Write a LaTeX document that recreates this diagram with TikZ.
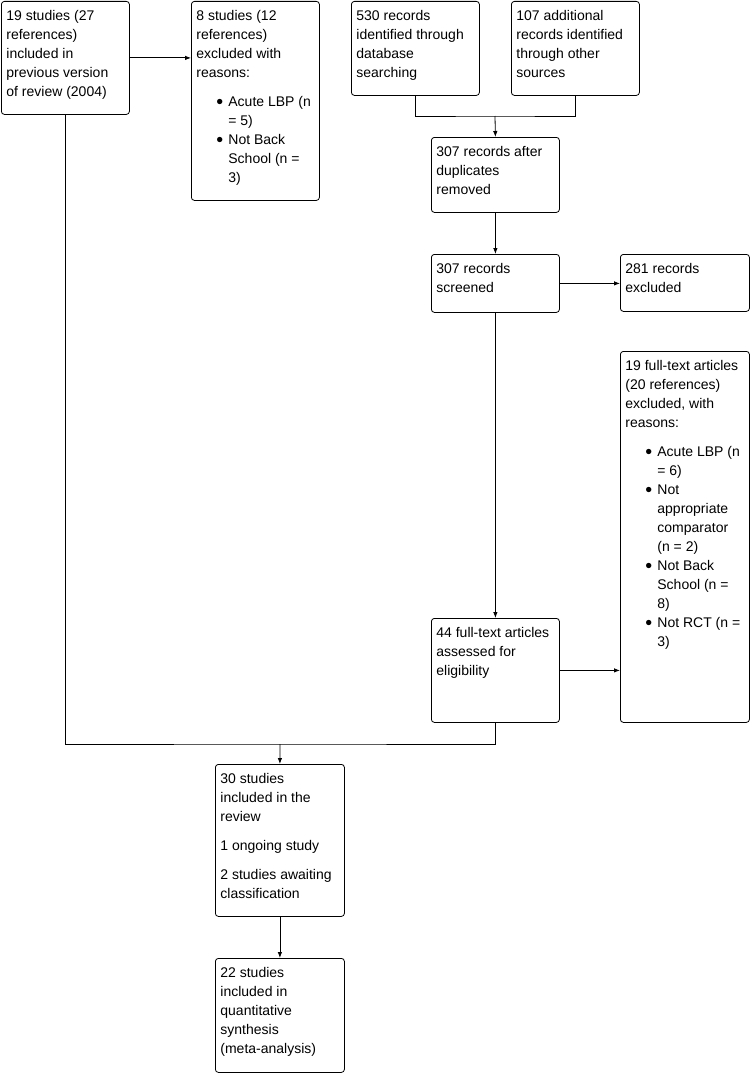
\documentclass[tikz,border=0pt]{standalone}
\usepackage{fontspec}
\setmainfont{Liberation Sans}
\usepackage{tikz}
\usetikzlibrary{arrows.meta,positioning}
\newcommand{\bitem}{\hspace*{20pt}\makebox[12pt][l]{\raisebox{-2.2pt}{\scalebox{1.4}{\textbullet}}}}
\newcommand{\bcont}{\hspace*{32pt}}

\begin{document}
\begin{tikzpicture}[
    x=1pt, y=-1pt,
    line width=0.8pt,
    box/.style={draw, rounded corners=3pt, anchor=north west, inner sep=0pt},
    txt/.style={anchor=north west, inner sep=0pt, align=left, font=\fontsize{14}{19}\selectfont},
    arr/.style={-{Latex[length=6pt,width=4.5pt]}}
  ]
  \useasboundingbox (0,0) rectangle (752,1073);

  % boxes
  \node[box, minimum width=128pt, minimum height=113pt] (prev)   at (1,1)     {};
  \node[box, minimum width=128pt, minimum height=199pt] (exprev) at (191,1)   {};
  \node[box, minimum width=128pt, minimum height=94pt]  (dbase)  at (351,1)   {};
  \node[box, minimum width=128pt, minimum height=94pt]  (other)  at (511,1)   {};
  \node[box, minimum width=128pt, minimum height=75pt]  (dupl)   at (431,137) {};
  \node[box, minimum width=128pt, minimum height=58pt]  (screen) at (431,254) {};
  \node[box, minimum width=129pt, minimum height=57pt]  (exrec)  at (620,254) {};
  \node[box, minimum width=129pt, minimum height=371pt] (exfull) at (620,351) {};
  \node[box, minimum width=128pt, minimum height=104pt] (full)   at (431,618) {};
  \node[box, minimum width=129pt, minimum height=152pt] (incl)   at (215,764) {};
  \node[box, minimum width=129pt, minimum height=114pt] (meta)   at (215,958) {};

  % texts
  \node[txt] (prevtxt) at ([xshift=5pt,yshift=-9pt]prev.north west)
    {19 studies (27\\references)\\included in\\previous version\\of review (2004)};
  \node[txt] (exprevtxt) at ([xshift=5pt,yshift=-9pt]exprev.north west)
    {8 studies (12\\references)\\excluded with\\reasons:\\[10pt]
     \bitem Acute LBP (n\\\bcont = 5)\\\bitem Not Back\\\bcont School (n =\\\bcont 3)};
  \node[txt] (dbasetxt) at ([xshift=5pt,yshift=-9pt]dbase.north west)
    {530 records\\identified through\\database\\searching};
  \node[txt] (othertxt) at ([xshift=5pt,yshift=-9pt]other.north west)
    {107 additional\\records identified\\through other\\sources};
  \node[txt] (dupltxt) at ([xshift=5pt,yshift=-9pt]dupl.north west)
    {307 records after\\duplicates\\removed};
  \node[txt] (screentxt) at ([xshift=5pt,yshift=-9pt]screen.north west)
    {307 records\\screened};
  \node[txt] (exrectxt) at ([xshift=5pt,yshift=-9pt]exrec.north west)
    {281 records\\excluded};
  \node[txt] (exfulltxt) at ([xshift=5pt,yshift=-9pt]exfull.north west)
    {19 full-text articles\\(20 references)\\excluded, with\\reasons:\\[10pt]
     \bitem Acute LBP (n\\\bcont = 6)\\\bitem Not\\\bcont appropriate\\\bcont comparator\\\bcont (n = 2)\\
     \bitem Not Back\\\bcont School (n =\\\bcont 8)\\\bitem Not RCT (n =\\\bcont 3)};
  \node[txt] (fulltxt) at ([xshift=5pt,yshift=-9pt]full.north west)
    {44 full-text articles\\assessed for\\eligibility};
  \node[txt] (incltxt) at ([xshift=5pt,yshift=-9pt]incl.north west)
    {30 studies\\included in the\\review\\[10pt]1 ongoing study\\[10pt]2 studies awaiting\\classification};
  \node[txt] (metatxt) at ([xshift=5pt,yshift=-9pt]meta.north west)
    {22 studies\\included in\\quantitative\\synthesis\\(meta-analysis)};

  % connectors
  \coordinate (join1) at (495,116);
  \coordinate (join2) at (280,744);
  \draw[arr] (prev.east) -- (prev.east -| exprev.west);
  \draw (dbase.south) |- (join1) -| (other.south);
  \draw[arr] (join1) -- (dupl.north);
  \draw[arr] (dupl) -- (screen);
  \draw[arr] (screen.east) -- (screen.east -| exrec.west);
  \draw[arr] (screen) -- (full);
  \draw[arr] (full.east) -- (full.east -| exfull.west);
  \draw (prev.south) |- (join2) -| (full.south);
  \draw[arr] (join2) -- (incl.north);
  \draw[arr] (incl) -- (meta);
\end{tikzpicture}
\end{document}
